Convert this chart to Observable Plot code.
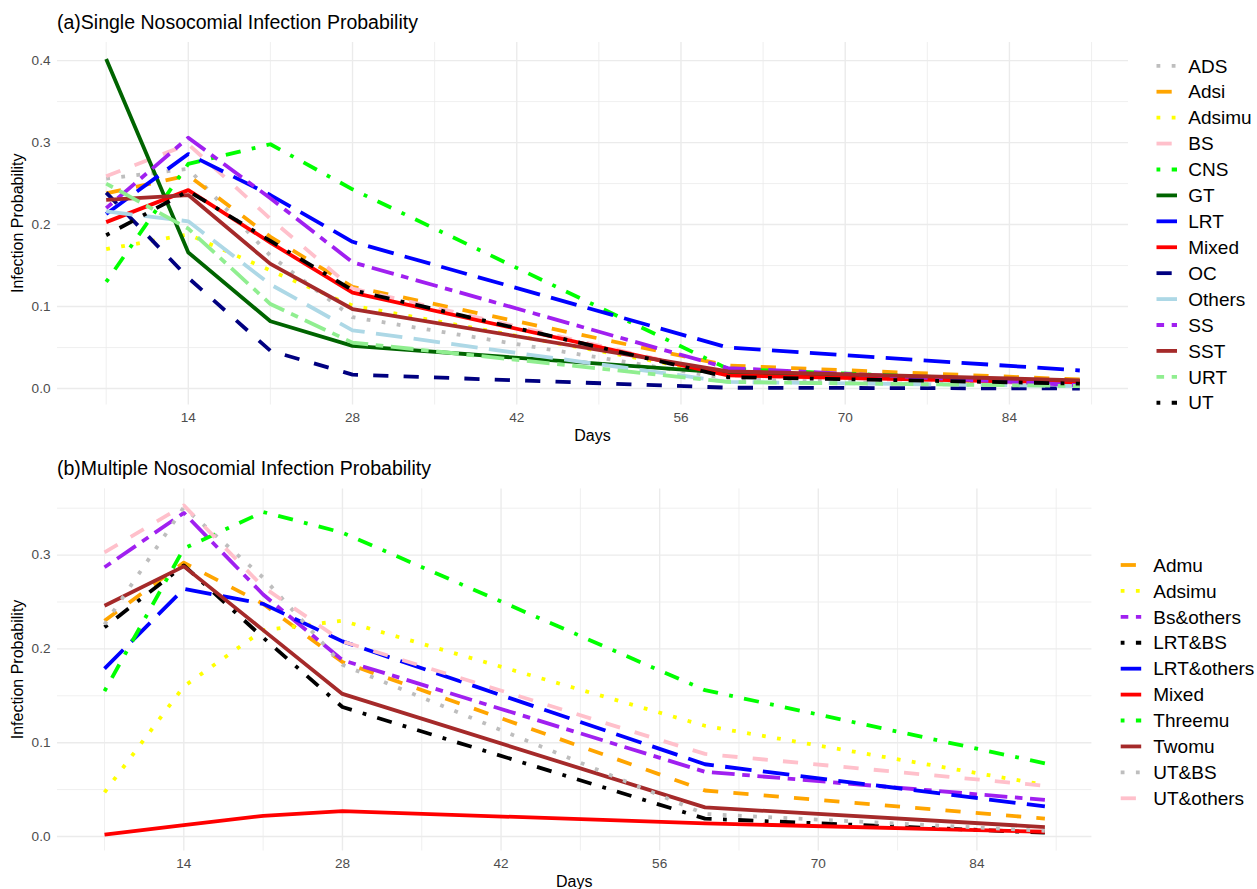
<!DOCTYPE html>
<html><head><meta charset="utf-8">
<script src="https://cdn.jsdelivr.net/npm/d3@7"></script>
<script src="https://cdn.jsdelivr.net/npm/@observablehq/plot@0.6"></script>
<style>
body{margin:0;background:#fff;}
#root{position:relative;width:1257px;height:889px;overflow:hidden;background:#fff;font-family:"Liberation Sans",Arial,Helvetica,sans-serif;}
#root > svg{position:absolute;}
</style></head><body><div id="root"></div>
<script>
// ---------------- DATA ----------------
const days = [7, 14, 21, 28, 60, 90];
const xMajor = [14, 28, 42, 56, 70, 84];
const xMinor = [7, 21, 35, 49, 63, 77, 91];

// (a) single infection
const singleNames = ["ADS","Adsi","Adsimu","BS","CNS","GT","LRT","Mixed","OC","Others","SS","SST","URT","UT"];
const s_ADS    = [0.256, 0.268, 0.162, 0.087, 0.012, 0.004];
const s_Adsi   = [0.238, 0.260, 0.185, 0.124, 0.028, 0.011];
const s_Adsimu = [0.170, 0.188, 0.144, 0.101, 0.017, 0.006];
const s_BS     = [0.259, 0.298, 0.207, 0.122, 0.016, 0.005];
const s_CNS    = [0.130, 0.274, 0.298, 0.243, 0.024, 0.007];
const s_GT     = [0.402, 0.166, 0.082, 0.052, 0.019, 0.009];
const s_LRT    = [0.213, 0.286, 0.236, 0.179, 0.050, 0.022];
const s_Mixed  = [0.203, 0.242, 0.178, 0.117, 0.016, 0.007];
const s_OC     = [0.239, 0.135, 0.046, 0.017, 0.001, 0.000];
const s_Others = [0.216, 0.204, 0.127, 0.071, 0.008, 0.003];
const s_SS     = [0.220, 0.306, 0.232, 0.154, 0.025, 0.004];
const s_SST    = [0.230, 0.236, 0.152, 0.097, 0.021, 0.010];
const s_URT    = [0.250, 0.195, 0.103, 0.056, 0.008, 0.003];
const s_UT     = [0.187, 0.241, 0.180, 0.120, 0.014, 0.006];
const singleValues = [s_ADS, s_Adsi, s_Adsimu, s_BS, s_CNS, s_GT, s_LRT, s_Mixed, s_OC, s_Others, s_SS, s_SST, s_URT, s_UT];
const yMajorA = [0, 0.1, 0.2, 0.3, 0.4];
const yMinorA = [0.05, 0.15, 0.25, 0.35];

// (b) multiple infection
const multiNames = ["Admu","Adsimu","Bs&others","LRT&BS","LRT&others","Mixed","Threemu","Twomu","UT&BS","UT&others"];
const m_Admu      = [0.230, 0.292, 0.248, 0.186, 0.049, 0.019];
const m_Adsimu    = [0.047, 0.160, 0.220, 0.230, 0.118, 0.055];
const m_BsOthers  = [0.287, 0.345, 0.258, 0.188, 0.069, 0.039];
const m_LRTBS     = [0.223, 0.289, 0.212, 0.138, 0.019, 0.004];
const m_LRTOthers = [0.179, 0.264, 0.248, 0.208, 0.077, 0.032];
const m_Mixed     = [0.002, 0.012, 0.022, 0.027, 0.014, 0.005];
const m_Threemu   = [0.155, 0.307, 0.346, 0.324, 0.156, 0.078];
const m_Twomu     = [0.246, 0.288, 0.220, 0.152, 0.031, 0.010];
const m_UTBS      = [0.226, 0.351, 0.276, 0.183, 0.024, 0.006];
const m_UTOthers  = [0.303, 0.353, 0.266, 0.208, 0.088, 0.054];
const multiValues = [m_Admu, m_Adsimu, m_BsOthers, m_LRTBS, m_LRTOthers, m_Mixed, m_Threemu, m_Twomu, m_UTBS, m_UTOthers];
const yMajorB = [0, 0.1, 0.2, 0.3];
const yMinorB = [0.05, 0.15, 0.25, 0.35];

// ---------------- STYLES ----------------
const LW = 3.8;
const patterns = {solid:null, dashed:[4,4], dotted:[1,3], dotdash:[1,3,4,3], longdash:[7,3], twodash:[2,2,6,2]};
const dash = t => patterns[t] ? patterns[t].map(v => v * LW).join(",") : "none";
const singleColors = ["#BEBEBE","#FFA500","#FFFF00","#FFC0CB","#00FF00","#006400","#0000FF","#FF0000","#000080","#ADD8E6","#A020F0","#A52A2A","#90EE90","#000000"];
const singleTypes  = ["dotted","dashed","dotted","dashed","dotdash","solid","longdash","solid","dashed","longdash","twodash","solid","twodash","dotdash"];
const multiColors  = ["#FFA500","#FFFF00","#A020F0","#000000","#0000FF","#FF0000","#00FF00","#A52A2A","#BEBEBE","#FFC0CB"];
const multiTypes   = ["dashed","dotted","twodash","dotdash","longdash","solid","dotdash","solid","dotted","dashed"];

const FONT = '"Liberation Sans",Arial,Helvetica,sans-serif';
const GRID = "#EBEBEB";

function panel(o) {
  const marks = [
    Plot.ruleY(o.yMinor, {stroke: GRID, strokeWidth: 0.8}),
    Plot.ruleX(xMinor, {stroke: GRID, strokeWidth: 0.8}),
    Plot.ruleY(o.yMajor, {stroke: GRID, strokeWidth: 1.4}),
    Plot.ruleX(xMajor, {stroke: GRID, strokeWidth: 1.4})
  ];
  o.names.forEach((name, i) => {
    const rows = days.map((d, j) => ({day: d, p: o.values[i][j], series: name}));
    marks.push(Plot.line(rows, {
      x: "day", y: "p", stroke: o.colors[i], strokeWidth: LW,
      strokeDasharray: dash(o.types[i]), strokeLinecap: "butt", strokeLinejoin: "round"
    }));
  });
  return Plot.plot({
    width: o.width, height: o.height,
    marginLeft: 57, marginRight: o.marginRight, marginTop: o.marginTop, marginBottom: o.marginBottom,
    x: {domain: [2.85, 94.15], ticks: xMajor, tickSize: 0, tickPadding: 7, label: null},
    y: {domain: o.yDomain, ticks: o.yMajor, tickSize: 0, tickPadding: 7, tickFormat: d3.format(".1f"), label: null},
    style: {fontFamily: FONT, fontSize: "13.6px", color: "#4D4D4D", background: "transparent", overflow: "visible"},
    marks
  });
}

const root = document.getElementById("root");

const panelA = panel({names: singleNames, values: singleValues, colors: singleColors, types: singleTypes,
  yDomain: [-0.0201, 0.4221], yMajor: yMajorA, yMinor: yMinorA,
  width: 1140, height: 445, marginTop: 42, marginBottom: 40.5, marginRight: 12});
panelA.style.left = "0px"; panelA.style.top = "0px";
root.appendChild(panelA);

const panelB = panel({names: multiNames, values: multiValues, colors: multiColors, types: multiTypes,
  yDomain: [-0.0155, 0.3706], yMajor: yMajorB, yMinor: yMinorB,
  width: 1100, height: 444, marginTop: 43.4, marginBottom: 38.5, marginRight: 8.6});
panelB.style.left = "0px"; panelB.style.top = "445px";
root.appendChild(panelB);

// ---------------- OVERLAY: titles, axis titles, legends ----------------
const ov = d3.select(root).append("svg")
  .attr("width", 1257).attr("height", 889)
  .style("left", "0px").style("top", "0px")
  .style("font-family", FONT).style("pointer-events", "none");

function texts(title, titleY, panelTop, panelBottom, panelRight) {
  ov.append("text").attr("x", 57).attr("y", titleY).attr("font-size", 19.5).attr("fill", "#000").text(title);
  ov.append("text").attr("x", (57 + panelRight) / 2).attr("y", panelBottom + 36)
    .attr("text-anchor", "middle").attr("font-size", 16).attr("fill", "#000").text("Days");
  const cy = (panelTop + panelBottom) / 2;
  ov.append("text").attr("transform", `translate(23,${cy}) rotate(-90)`)
    .attr("text-anchor", "middle").attr("font-size", 16).attr("fill", "#000").text("Infection Probability");
}
texts("(a)Single Nosocomial Infection Probability", 29, 42, 404.5, 1128);
texts("(b)Multiple Nosocomial Infection Probability", 475.4, 488.4, 850.5, 1091.4);

function legend(names, colors, types, x0, y0, textX) {
  names.forEach((n, i) => {
    const y = y0 + i * 25.92;
    ov.append("line").attr("x1", x0).attr("x2", x0 + 20.5).attr("y1", y).attr("y2", y)
      .attr("stroke", colors[i]).attr("stroke-width", LW)
      .attr("stroke-dasharray", dash(types[i])).attr("stroke-linecap", "butt");
    ov.append("text").attr("x", textX).attr("y", y + 6.7).attr("font-size", 19).attr("fill", "#000").text(n);
  });
}
legend(singleNames, singleColors, singleTypes, 1156.5, 65.8, 1188.3);
legend(multiNames, multiColors, multiTypes, 1120.7, 565, 1153.3);
</script>
</body></html>
